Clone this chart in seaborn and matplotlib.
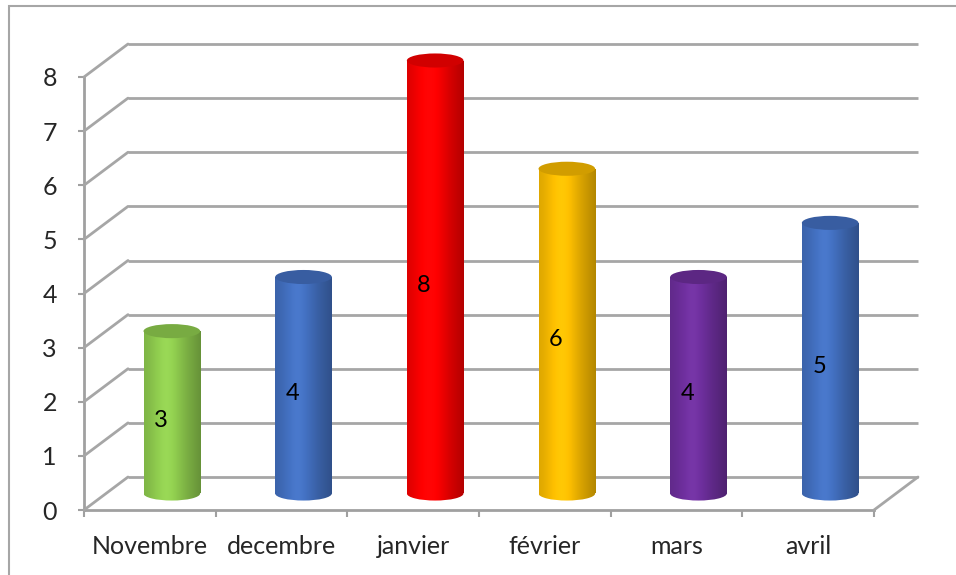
import numpy as np
import pandas as pd
import matplotlib
matplotlib.use("Agg")
import matplotlib.pyplot as plt
import matplotlib.transforms as mtransforms
from matplotlib.patches import Ellipse, Rectangle
from matplotlib.colors import to_rgb
import seaborn as sns

months = ["Novembre", "decembre", "janvier", "février", "mars", "avril"]
counts = [3, 4, 8, 6, 4, 5]
bar_colors = ["#92D050", "#4472C4", "#FF0000", "#FFC000", "#7030A0", "#4472C4"]
y_ticks = [0, 1, 2, 3, 4, 5, 6, 7, 8]

sns.set_theme(style="white")
plt.rcParams["font.family"] = ["Lato", "DejaVu Sans"]

W, H = 956, 575
fig = plt.figure(figsize=(W / 100, H / 100), dpi=100)
fig.patch.set_facecolor("white")

# front plane of the 3-D box, in pixels
left_px, right_px, bottom_px, top_px = 84, 874, 510, 77
ax = fig.add_axes([left_px / W, (H - bottom_px) / H,
                   (right_px - left_px) / W, (bottom_px - top_px) / H])
ax.set_xlim(-0.5, 5.5)
ax.set_ylim(0, 8)
ax.patch.set_alpha(0)

# depth offsets (pixels)
depth_dx, depth_dy = 44, 33
back = mtransforms.offset_copy(ax.transData, fig=fig, x=depth_dx, y=depth_dy, units="dots")
mid = mtransforms.offset_copy(ax.transData, fig=fig, x=depth_dx / 2, y=depth_dy / 2, units="dots")

grid_col = "#A6A6A6"
grid_lw = 2.0

# back wall and left wall gridlines
x0, x1 = -0.5, 5.5
for v in y_ticks:
    ax.plot([x0, x1], [v, v], color=grid_col, lw=grid_lw, transform=back,
            clip_on=False, solid_capstyle="butt", zorder=1)
    p_front = ax.transData.transform((x0, v))
    p_back = p_front + np.array([depth_dx, depth_dy])
    pts = fig.transFigure.inverted().transform([p_front, p_back])
    fig.add_artist(plt.Line2D(pts[:, 0], pts[:, 1], color=grid_col, lw=grid_lw, zorder=1))

# right edge of the floor
pf = ax.transData.transform((x1, 0))
pb = pf + np.array([depth_dx, depth_dy])
pts = fig.transFigure.inverted().transform([pf, pb])
fig.add_artist(plt.Line2D(pts[:, 0], pts[:, 1], color=grid_col, lw=grid_lw, zorder=1))

# cylinder bodies
df = pd.DataFrame({"mois": months, "valeur": counts})
bar_w = 0.43
sns.barplot(data=df, x="mois", y="valeur", hue="mois", palette=bar_colors,
            width=bar_w, legend=False, ax=ax, saturation=1, zorder=3)
ax.set_xlim(-0.5, 5.5)
ax.set_ylim(0, 8)


def shade_strip(color, n=64):
    base = np.array(to_rgb(color))
    t = np.linspace(0, 1, n)
    k = 0.84 + 0.2 * np.exp(-((t - 0.4) / 0.3) ** 2) - 0.14 * t ** 4
    rgb = np.clip(base[None, :] * k[:, None], 0, 1)
    light = np.clip(k - 1.0, 0, None)[:, None]
    rgb = np.clip(rgb + light * (1 - base[None, :]) * 0.5, 0, 1)
    return rgb[None, :, :]


ell_h = 0.26
for i, (patch, col, v) in enumerate(zip(ax.patches, bar_colors, counts)):
    patch.set_transform(mid)
    patch.set_clip_on(False)
    patch.set_edgecolor("none")
    bx = patch.get_x()
    bw = patch.get_width()
    cx = bx + bw / 2
    strip = shade_strip(col)
    # gradient on the body
    im = ax.imshow(strip, extent=[bx, bx + bw, 0, v], aspect="auto",
                   interpolation="bilinear", zorder=4)
    im.set_transform(mid)
    im.set_clip_path(patch)
    # rounded bottom
    bottom = Ellipse((cx, 0), bw, ell_h, transform=mid, facecolor="none",
                     edgecolor="none", clip_on=False)
    ax.add_patch(bottom)
    im2 = ax.imshow(strip, extent=[bx, bx + bw, -ell_h, ell_h], aspect="auto",
                    interpolation="bilinear", zorder=4)
    im2.set_transform(mid)
    im2.set_clip_path(bottom)
    # top cap
    top_col = np.clip(np.array(to_rgb(col)) * 0.82, 0, 1)
    cap = Ellipse((cx, v), bw, ell_h, transform=mid, facecolor=top_col,
                  edgecolor="none", zorder=5, clip_on=False)
    ax.add_patch(cap)
    # value label
    lab_tr = mtransforms.offset_copy(ax.transData, fig=fig, x=11, y=8, units="dots")
    ax.text(i, v / 2, f"{v}", transform=lab_tr, ha="center", va="center",
            fontsize=17, color="black", zorder=6)

# axes styling
for s in ["top", "right"]:
    ax.spines[s].set_visible(False)
for s in ["left", "bottom"]:
    ax.spines[s].set_color("#A0A0A0")
    ax.spines[s].set_linewidth(2.0)
    ax.spines[s].set_zorder(2)

ax.set_yticks(y_ticks)
ax.set_yticklabels([str(t) for t in y_ticks], fontsize=18)
ax.tick_params(axis="y", direction="out", length=4.5, width=1.5, color="#A0A0A0",
               pad=15, left=True)
ax.set_xticks(range(len(months)))
ax.set_xticklabels(months, fontsize=18)
ax.tick_params(axis="x", length=0, pad=18)
ax.set_xticks(np.arange(-0.5, 6.0, 1.0), minor=True)
ax.tick_params(axis="x", which="minor", direction="out", length=5, width=1.5,
               color="#A0A0A0", bottom=True)
ax.set_xlabel("")
ax.set_ylabel("")
ax.grid(False)

# chart border
fig.add_artist(Rectangle((9 / W, -0.1), 1.2, (H - 6) / H + 0.1,
                         transform=fig.transFigure, fill=False,
                         edgecolor="#A6A6A6", lw=1.5))

fig.savefig("out.png", dpi=100, facecolor="white")
